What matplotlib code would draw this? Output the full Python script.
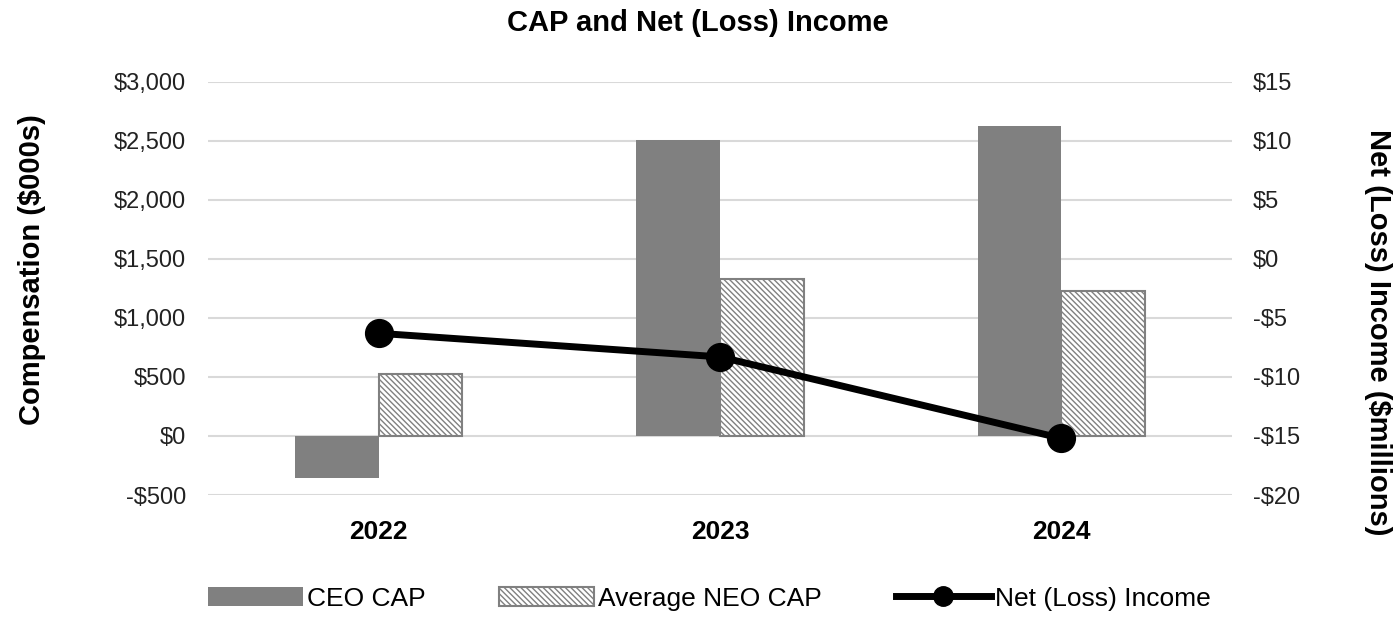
import matplotlib.pyplot as plt
import matplotlib.ticker as mticker
import numpy as np

plt.rcParams['font.family'] = ['Liberation Sans', 'DejaVu Sans']
plt.rcParams['hatch.color'] = '#707070'
plt.rcParams['hatch.linewidth'] = 1.0

years = ['2022', '2023', '2024']
ceo_cap = [-360, 2508, 2627]        # $000s
neo_cap = [525, 1330, 1229]         # $000s
net_income = [-6.3, -8.3, -15.2]    # $ millions

x = np.arange(len(years))
w = 0.245


def dollars(v, p):
    return f'-${abs(v):,.0f}' if v < 0 else f'${v:,.0f}'


fig = plt.figure(figsize=(13.96, 6.25), dpi=100)
ax = fig.add_axes([0.149, 0.208, 0.7335, 0.661])

ax.bar(x - w / 2, ceo_cap, w, color='#808080', label='CEO CAP', zorder=2)
ax.bar(x + w / 2, neo_cap, w, color='white', edgecolor='#808080',
       hatch='\\\\\\\\\\\\', linewidth=1.5, label='Average NEO CAP', zorder=2)

ax.set_xlim(-0.5, 2.5)
ax.set_ylim(-500, 3000)
ax.yaxis.set_major_locator(mticker.MultipleLocator(500))
ax.yaxis.set_major_formatter(mticker.FuncFormatter(dollars))
ax.grid(axis='y', color='#d9d9d9', linewidth=1.5, zorder=0)
ax.set_xticks(x)
ax.set_xticklabels(years, fontsize=19, fontweight='bold')
ax.tick_params(axis='both', length=0)
ax.tick_params(axis='y', labelsize=17, colors='#222222', pad=16)
ax.tick_params(axis='x', pad=18)
for s in ax.spines.values():
    s.set_visible(False)
ax.set_ylabel('Compensation ($000s)', fontsize=21, fontweight='bold', va='center')
ax.yaxis.set_label_coords(-0.172, 0.545)

ax2 = ax.twinx()
ax2.plot(x, net_income, color='black', linewidth=5, marker='o', markersize=20,
         label='Net (Loss) Income', zorder=3)
ax2.set_ylim(-20, 15)
ax2.yaxis.set_major_locator(mticker.MultipleLocator(5))
ax2.yaxis.set_major_formatter(mticker.FuncFormatter(dollars))
ax2.tick_params(axis='y', length=0, labelsize=17, colors='#222222', pad=15)
for s in ax2.spines.values():
    s.set_visible(False)
ax2.set_ylabel('Net (Loss) Income ($millions)', fontsize=21, fontweight='bold',
               rotation=270, va='center')
ax2.yaxis.set_label_coords(1.143, 0.395)

fig.suptitle('CAP and Net (Loss) Income', fontsize=21, fontweight='bold', y=0.985)

h1, l1 = ax.get_legend_handles_labels()
h2, l2 = ax2.get_legend_handles_labels()
fig.legend(h1 + h2, l1 + l2, loc='lower center', ncol=3, frameon=False,
           fontsize=19, bbox_to_anchor=(0.508, -0.015), handlelength=3.6,
           handletextpad=0.15, columnspacing=2.8, markerscale=0.7)

fig.savefig('out.png', dpi=100)
